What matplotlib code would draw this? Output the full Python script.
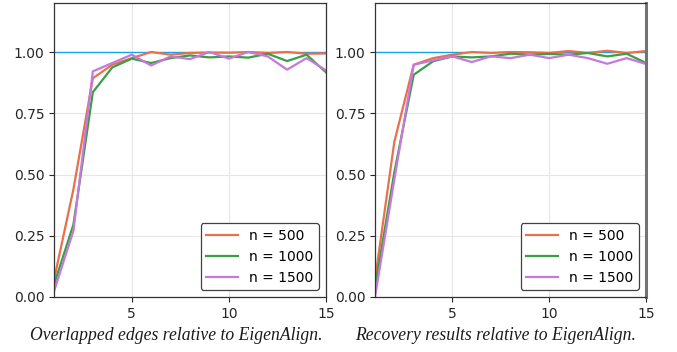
import matplotlib
matplotlib.use("Agg")
import matplotlib.pyplot as plt
import numpy as np

x = list(range(1, 16))
labels = ["n = 500", "n = 1000", "n = 1500"]

left_500 = [0.07, 0.44, 0.893, 0.948, 0.975, 1.0, 0.989, 0.996, 0.998, 0.997, 1.0, 0.996, 1.0, 0.993, 0.994]
left_1000 = [0.05, 0.296, 0.836, 0.937, 0.973, 0.955, 0.975, 0.986, 0.978, 0.982, 0.977, 0.993, 0.963, 0.989, 0.917]
left_1500 = [0.023, 0.27, 0.921, 0.955, 0.989, 0.945, 0.982, 0.971, 1.0, 0.973, 1.0, 0.982, 0.928, 0.975, 0.925]

right_500 = [0.07, 0.634, 0.948, 0.975, 0.989, 1.0, 0.996, 1.0, 0.999, 0.996, 1.004, 0.996, 1.005, 0.996, 1.004]
right_1000 = [0.04, 0.51, 0.907, 0.962, 0.982, 0.978, 0.982, 0.993, 0.989, 0.992, 0.989, 0.996, 0.982, 0.993, 0.955]
right_1500 = [0.0, 0.48, 0.948, 0.966, 0.982, 0.959, 0.982, 0.975, 0.989, 0.975, 0.989, 0.975, 0.952, 0.975, 0.951]

captions = ["Overlapped edges relative to EigenAlign.", "Recovery results relative to EigenAlign."]
yticks = [0.0, 0.25, 0.5, 0.75, 1.0]
ytick_labels = ["0.00", "0.25", "0.50", "0.75", "1.00"]
xticks = [5, 10, 15]

colors = ["#e8704a", "#3a9e48", "#c678dd"]
ref_color = "#12a5f0"

fig = plt.figure(figsize=(6.77, 3.52), dpi=100)
axes_rects = [[54/677, 55/352, 272/677, 294/352], [375/677, 55/352, 271/677, 294/352]]
data = [(left_500, left_1000, left_1500), (right_500, right_1000, right_1500)]
cap_x = [176/677, 496/677]

for i, (rect, series) in enumerate(zip(axes_rects, data)):
    ax = fig.add_axes(rect)
    ax.axhline(1.0, color=ref_color, lw=1.0, zorder=1)
    for s, c, lab in zip(series, colors, labels):
        ax.plot(x, s, color=c, lw=1.6, label=lab, zorder=2)
    ax.set_xlim(1, 15)
    ax.set_ylim(0, 1.2)
    ax.set_xticks(xticks)
    ax.set_yticks(yticks)
    ax.set_yticklabels(ytick_labels)
    ax.tick_params(labelsize=10, colors="0.15")
    ax.grid(True, color="0.9", lw=0.8)
    ax.set_axisbelow(True)
    for sp in ax.spines.values():
        sp.set_color("0.2")
        sp.set_linewidth(0.9)
    if i == 1:
        ax.spines["right"].set_color("0.45")
        ax.spines["right"].set_linewidth(2.2)
    leg = ax.legend(loc="lower right", fontsize=10, frameon=True, fancybox=True,
                    edgecolor="0.25", framealpha=1.0, handlelength=2.3)
    leg.get_frame().set_linewidth(0.9)
    fig.text(cap_x[i], (352 - 336) / 352, captions[i], ha="center", va="center",
             fontsize=12.7, style="italic", family="Liberation Serif", color="0.1")

fig.savefig("out.png", dpi=100)
